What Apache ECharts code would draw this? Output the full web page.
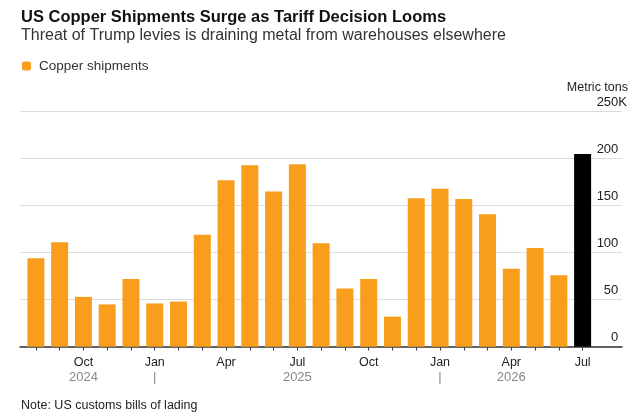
<!DOCTYPE html>
<html>
<head>
<meta charset="utf-8">
<script src="https://cdn.jsdelivr.net/npm/echarts@6/dist/echarts.min.js"></script>
<style>
  html, body { margin: 0; padding: 0; background: #fff; }
  #main { width: 640px; height: 414px; }
</style>
</head>
<body>
<div id="main"></div>
<script>
// monthly copper shipments into the US, metric tons (thousands)
const months = [
  'Aug 2024', 'Sep 2024', 'Oct 2024', 'Nov 2024', 'Dec 2024',
  'Jan 2025', 'Feb 2025', 'Mar 2025', 'Apr 2025', 'May 2025', 'Jun 2025',
  'Jul 2025', 'Aug 2025', 'Sep 2025', 'Oct 2025', 'Nov 2025', 'Dec 2025',
  'Jan 2026', 'Feb 2026', 'Mar 2026', 'Apr 2026', 'May 2026', 'Jun 2026',
  'Jul 2026'
];
const shipments = [
  94, 111, 53, 45, 72,
  46, 48, 119, 177, 193, 165,
  194, 110, 62, 72, 32, 158,
  168, 157, 141, 83, 105, 76,
  205
];
// second line under the month ticks
const yearMarks = [
  '', '', '2024', '', '',
  '|', '', '', '', '', '',
  '2025', '', '', '', '', '',
  '|', '', '', '2026', '', '',
  ''
];
const yTicks = [0, 50, 100, 150, 200, 250];

const FONT = 'Liberation Sans';
const ORANGE = '#f99d1c';
const lastIdx = shipments.length - 1;

let myChart = echarts.init(document.getElementById('main'));

myChart.setOption({
  animation: false,
  textStyle: { fontFamily: FONT },
  title: [{
    text: 'US Copper Shipments Surge as Tariff Decision Looms',
    left: 21, top: 9, padding: 0,
    textStyle: { fontSize: 16.5, fontWeight: 'bold', color: '#111', fontFamily: FONT }
  }, {
    text: 'Threat of Trump levies is draining metal from warehouses elsewhere',
    left: 21, top: 28, padding: 0,
    textStyle: { fontSize: 16, fontWeight: 'normal', color: '#333', fontFamily: FONT }
  }, {
    text: 'Metric tons',
    right: 12, top: 81, padding: 0,
    textStyle: { fontSize: 12.5, fontWeight: 'normal', color: '#222', fontFamily: FONT }
  }, {
    text: 'Note: US customs bills of lading',
    left: 21, top: 399, padding: 0,
    textStyle: { fontSize: 12.5, fontWeight: 'normal', color: '#222', fontFamily: FONT }
  }],
  legend: {
    left: 17, top: 54,
    icon: 'roundRect',
    itemWidth: 9, itemHeight: 9,
    itemGap: 6,
    textStyle: { fontSize: 13.5, color: '#333', fontFamily: FONT, padding: [0, 0, 0, 3] },
    data: ['Copper shipments']
  },
  grid: [
    // wide grid: gridlines, value labels, baseline
    { left: 20, right: 18, top: 111.7, bottom: 67.3, outerBoundsMode: 'none', containLabel: false },
    // narrow grid: the bars themselves
    { left: 24, right: 45.5, top: 111.7, bottom: 67.3, outerBoundsMode: 'none', containLabel: false }
  ],
  xAxis: [{
    gridIndex: 0, type: 'value', min: 0, max: 1,
    axisLine: { show: true, onZero: false, lineStyle: { color: '#333', width: 1.5 } },
    axisTick: { show: false },
    axisLabel: { show: false },
    splitLine: { show: false }
  }, {
    gridIndex: 1, type: 'category', data: months,
    axisLine: { show: false },
    axisTick: { show: true, alignWithLabel: true, interval: 0, length: 4, lineStyle: { color: '#444' } },
    axisLabel: {
      interval: function (i, v) { return ['Oct', 'Jan', 'Apr', 'Jul'].indexOf(v.slice(0, 3)) >= 0; },
      margin: 8,
      lineHeight: 15,
      fontSize: 12.5,
      color: '#222',
      fontFamily: FONT,
      formatter: function (v, i) {
        return v.slice(0, 3) + '\n{yr|' + (yearMarks[i] || ' ') + '}';
      },
      rich: {
        yr: { fontSize: 13, color: '#888', lineHeight: 15, fontFamily: FONT }
      }
    },
    splitLine: { show: false }
  }],
  yAxis: [{
    gridIndex: 0, type: 'value', position: 'right',
    min: 0, max: 250, interval: 50,
    axisLine: { show: false },
    axisTick: { show: false },
    axisLabel: {
      inside: false,
      align: 'right',
      verticalAlign: 'bottom',
      margin: 5,
      padding: [0, 0, 3, 0],
      fontSize: 13,
      color: '#222',
      fontFamily: FONT,
      formatter: function (v) {
        return v === yTicks[yTicks.length - 1] ? v + 'K' : v + '{hid|K}';
      },
      rich: { hid: { color: 'rgba(0,0,0,0)', fontSize: 13, fontFamily: FONT } }
    },
    splitLine: { show: true, lineStyle: { color: '#dcdcdc', width: 1 } }
  }, {
    gridIndex: 1, type: 'value', min: 0, max: 250, show: false,
    splitLine: { show: false }
  }],
  series: [{
    name: 'Copper shipments',
    type: 'bar',
    xAxisIndex: 1, yAxisIndex: 1,
    barWidth: 17,
    itemStyle: { color: ORANGE },
    data: shipments.map(function (v, i) {
      return i === lastIdx ? { value: v, itemStyle: { color: '#000' } } : v;
    })
  }]
});
</script>
</body>
</html>
